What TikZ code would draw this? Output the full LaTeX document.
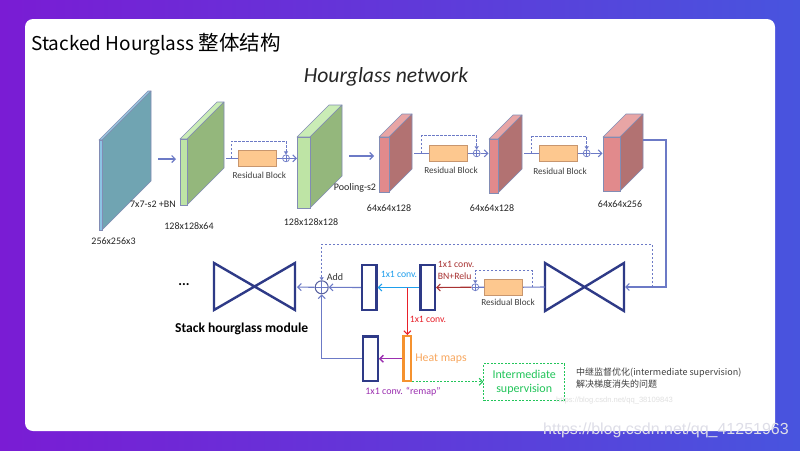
\documentclass[tikz,border=0pt]{standalone}
\usepackage{fontspec}
\setmainfont{Carlito}
\newfontfamily\cjk{Noto Sans CJK SC}
\newfontfamily\wmfont{Liberation Sans}
\usetikzlibrary{arrows.meta}
\definecolor{bgl}{RGB}{122,28,212}
\definecolor{bgr}{RGB}{72,84,222}
\definecolor{navy}{RGB}{46,58,135}
\definecolor{lnav}{RGB}{108,122,198}
\definecolor{rbfill}{RGB}{253,200,143}
\definecolor{rbdraw}{RGB}{200,150,110}
\definecolor{slabedge}{RGB}{130,140,180}
\definecolor{bfront}{RGB}{140,195,228}
\definecolor{bside}{RGB}{112,164,178}
\definecolor{btop}{RGB}{150,200,222}
\definecolor{gfront}{RGB}{190,228,165}
\definecolor{gside}{RGB}{148,183,124}
\definecolor{gtop}{RGB}{202,236,182}
\definecolor{pfront}{RGB}{225,138,140}
\definecolor{pside}{RGB}{178,114,114}
\definecolor{ptop}{RGB}{232,165,165}
\definecolor{darkred}{RGB}{168,50,50}
\definecolor{skyb}{RGB}{30,158,236}
\definecolor{hotred}{RGB}{232,32,42}
\definecolor{hmorange}{RGB}{245,146,47}
\definecolor{hmtext}{RGB}{248,168,96}
\definecolor{purp}{RGB}{155,47,176}
\definecolor{isgreen}{RGB}{34,197,90}
\definecolor{notegray}{RGB}{64,64,64}
\newcommand\mkslab[8]{%
 \filldraw[fill=#8, draw=slabedge, line width=0.6pt, line join=round] (#1,#3) -- ({#1+#5},{#3-#5}) -- ({#2+#5},{#3-#5}) -- (#2,#3) -- cycle;
 \filldraw[fill=#7, draw=slabedge, line width=0.6pt, line join=round] (#2,#3) -- ({#2+#5},{#3-#5}) -- ({#2+#5},{#4-#5}) -- (#2,#4) -- cycle;
 \filldraw[fill=#6, draw=slabedge, line width=0.6pt] (#1,#3) rectangle (#2,#4);
}
\tikzset{
 rbbox/.style={draw=rbdraw, fill=rbfill, line width=0.8pt, minimum width=38pt, minimum height=15.5pt, inner sep=0pt},
 oplus/.style={circle, draw=lnav, line width=0.7pt, minimum size=#1, inner sep=0pt, fill=white,
   path picture={\draw[lnav, line width=0.6pt] (path picture bounding box.north) -- (path picture bounding box.south) (path picture bounding box.west) -- (path picture bounding box.east);}},
 oplus/.default=7pt,
 dimlab/.style={font=\fontsize{10}{12}\selectfont, text=black!85, inner sep=0pt},
 rblab/.style={font=\fontsize{9.2}{11}\selectfont, text=notegray, inner sep=0pt},
 conv/.style={draw=navy, line width=2.4pt, fill=white, minimum width=14.3pt, minimum height=44.6pt, inner sep=0pt},
 hg/.style={draw=navy, line width=2.4pt, line join=miter},
 conn/.style={draw=lnav, line width=1.1pt},
 skip/.style={draw=lnav, line width=1pt, dash pattern=on 2.5pt off 1.5pt},
 bar/.style={-{Straight Barb[length=3.5pt,width=7pt]}},
 tri/.style={-{Triangle[length=3pt,width=4pt]}},
 clab/.style={font=\fontsize{9.7}{11.7}\selectfont, inner sep=0pt},
}
\begin{document}
\begin{tikzpicture}[x=1pt,y=-1pt]
\useasboundingbox (0,0) rectangle (800,450);
\shade[left color=bgl, right color=bgr] (0,0) rectangle (800,450);
\fill[white, rounded corners=8pt] (25,19) rectangle (775,431);
% titles
\node[anchor=base west, font=\cjk\fontsize{19}{22}\selectfont, inner sep=0pt] (title) at (31,50) {Stacked Hourglass {\fontsize{20.5}{22}\selectfont 整体结构}};
\node[anchor=base, font=\itshape\fontsize{21.6}{25}\selectfont, text=black!85, inner sep=0pt] (hgnet) at (386,82) {Hourglass network};
% slabs
\mkslab{99}{102}{140}{230}{49}{bfront}{bside}{btop}
\mkslab{180}{187}{139}{205}{37}{gfront}{gside}{gtop}
\mkslab{297}{310}{137}{208}{32}{gfront}{gside}{gtop}
\mkslab{379}{389}{137}{192}{23}{pfront}{pside}{ptop}
\mkslab{489}{498}{139}{193}{24}{pfront}{pside}{ptop}
\mkslab{603}{620}{137}{191}{23}{pfront}{pside}{ptop}
% dimension labels
\node[dimlab] (d1) at (113.5,241) {256x256x3};
\node[dimlab] (k1) at (153,204) {7x7-s2 +BN};
\node[dimlab] (d2) at (189,226) {128x128x64};
\node[dimlab] (d3) at (311,222) {128x128x128};
\node[dimlab] (pl) at (355,188) {Pooling-s2};
\node[dimlab] (d4) at (389,208) {64x64x128};
\node[dimlab] (d5) at (492,208) {64x64x128};
\node[dimlab] (d6) at (620,204) {64x64x256};
% first arrows
\coordinate (a1s) at (158,159); \coordinate (a1e) at (176,159);
\draw[conn,bar] (a1s) -- (a1e);
\coordinate (a2s) at (349,156); \coordinate (a2e) at (374,156);
\draw[conn,bar] (a2s) -- (a2e);
% residual block 1
\node[rbbox] (rb1) at (257.2,158.3) {};
\node[oplus] (p1) at (286,158.3) {};
\coordinate (r1s) at (226,158.3); \coordinate (r1e) at (297,158.3);
\draw[conn] (r1s) -- (rb1.west) (rb1.east) -- (p1.west);
\draw[conn,bar] (p1.east) -- (r1e);
\draw[skip,tri] (231.7,158.3) -- (231.7,141) -- (286,141) -- (p1.north);
\node[rblab] (rl1) at (259.3,175.7) {Residual Block};
% residual block 2
\node[rbbox] (rb2) at (448.7,153.3) {};
\node[oplus] (p2) at (476.7,153.3) {};
\coordinate (r2s) at (414,153.3); \coordinate (r2e) at (488.5,153.3);
\draw[conn] (r2s) -- (rb2.west) (rb2.east) -- (p2.west);
\draw[conn,bar] (p2.east) -- (r2e);
\draw[skip,tri] (421.7,153.3) -- (421.7,135.7) -- (476.7,135.7) -- (p2.north);
\node[rblab] (rl2) at (451,170.7) {Residual Block};
% residual block 3
\node[rbbox] (rb3) at (558.5,153.3) {};
\node[oplus] (p3) at (586.7,153.3) {};
\coordinate (r3s) at (524,153.3); \coordinate (r3e) at (602.5,153.3);
\draw[conn] (r3s) -- (rb3.west) (rb3.east) -- (p3.west);
\draw[conn,bar] (p3.east) -- (r3e);
\draw[skip,tri] (531.7,153.3) -- (531.7,136.7) -- (586.7,136.7) -- (p3.north);
\node[rblab] (rl3) at (560,171) {Residual Block};
% bottom right hourglass
\draw[hg] (545,263) -- (624,311) -- (624,263) -- (545,311) -- cycle;
\coordinate (hgRw) at (545,287); \coordinate (hgRe) at (625,287);
\coordinate (s6out) at (643,140);
\draw[conn,bar] (s6out) -- (666,140) -- (666,287) -- (hgRe);
% left hourglass
\draw[hg] (214,263) -- (295,310) -- (295,263) -- (214,310) -- cycle;
\coordinate (hgLe) at (297,287);
\node[font=\bfseries\fontsize{14}{16}\selectfont, inner sep=0pt] (dots) at (184,285) {...};
\node[font=\bfseries\fontsize{13.6}{16}\selectfont, inner sep=0pt] (shm) at (241.7,329) {Stack hourglass module};
% bottom residual block
\node[rbbox] (rb4) at (503.8,287.2) {};
\node[oplus] (p4) at (475.3,287.2) {};
\draw[conn] (hgRw) -- (rb4.east) (rb4.west) -- (p4.east);
\draw[skip,tri] (532.7,287.2) -- (532.7,270.7) -- (475.3,270.7) -- (p4.north);
\node[rblab] (rl4) at (508,302.3) {Residual Block};
% conv boxes
\node[conv] (cA) at (427.7,287.5) {};
\node[conv] (cB) at (369.3,287.5) {};
\node[conv, minimum width=14.9pt] (cC) at (370.3,358.7) {};
\node[draw=hmorange, line width=2.4pt, fill=white, minimum width=7.6pt, minimum height=44.9pt, inner sep=0pt] (hm) at (407.3,358.7) {};
\draw[darkred, line width=1.1pt, bar] (p4.west) -- (cA.east);
\node[clab, text=darkred, anchor=west] (bn1) at (437.7,264) {1x1 conv.};
\node[clab, text=darkred, anchor=west] (bn2) at (437.7,276.5) {BN+Relu};
\draw[skyb, line width=1.1pt, bar] (cA.west) -- (cB.east);
\node[clab, text=skyb] (lb1) at (399,274) {1x1 conv.};
\coordinate (rs) at (407.3,287.5);
\draw[hotred, line width=1.1pt, bar] (rs) -- (hm.north);
\node[clab, text=hotred] (lr1) at (428,319) {1x1 conv.};
\node[font=\fontsize{11.8}{14}\selectfont, text=hmtext, inner sep=0pt] (hml) at (441,359) {Heat maps};
\draw[purp, line width=1.3pt, bar] (hm.west) -- (cC.east);
\node[font=\fontsize{10}{12}\selectfont, text=purp, inner sep=0pt] (rml) at (403,392) {1x1 conv. “remap”};
% Add
\node[oplus=13pt, draw=navy!80, line width=1pt] (add) at (321.7,287.3) {};
\node[font=\fontsize{10}{12}\selectfont, text=black!80, inner sep=0pt] (addl) at (335,277) {Add};
\draw[conn,bar] (cB.west) -- (add.east);
\draw[conn,bar] (cC.west) -- (321.7,358.7) -- (add.south);
\draw[conn,bar] (add.west) -- (hgLe);
\draw[skip,tri] (652,287) -- (652,244) -- (321.7,244) -- (add.north);
% intermediate supervision
\node[draw=isgreen, dash pattern=on 2pt off 1.5pt, line width=1pt, minimum width=80.7pt, minimum height=36.7pt, inner sep=0pt, align=center, text=isgreen, font=\fontsize{12}{13.6}\selectfont] (isv) at (524.2,382.2) {Intermediate\\supervision};
\coordinate (hmbr) at (412.3,381.7);
\draw[isgreen, line width=1pt, dash pattern=on 2pt off 1.5pt, bar] (hmbr) -- (isv.west |- hmbr);
% note
\node[anchor=west, font=\cjk\fontsize{9}{11}\selectfont, text=notegray, inner sep=0pt] (n1) at (576,372.3) {中继监督优化(intermediate supervision)};
\node[anchor=west, font=\cjk\fontsize{9}{11}\selectfont, text=notegray, inner sep=0pt] (n2) at (576,384.3) {解决梯度消失的问题};
% watermarks
\node[font=\wmfont\fontsize{7.6}{9}\selectfont, text=black!12, inner sep=0pt] (wm1) at (614.5,400.5) {https://blog.csdn.net/qq\_38109843};
\node[font=\wmfont\fontsize{16}{19}\selectfont, text={rgb,255:red,222;green,222;blue,232}, inner sep=0pt] (wm2) at (666,430) {https://blog.csdn.net/qq\_41251963};
\end{tikzpicture}
\end{document}
